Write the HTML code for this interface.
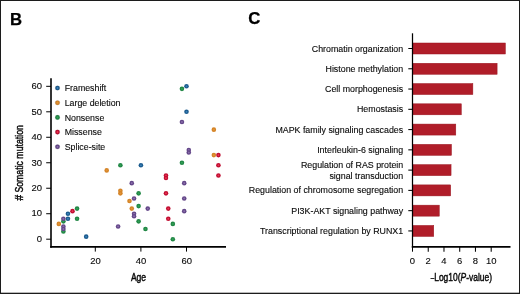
<!DOCTYPE html>
<html><head><meta charset="utf-8"><title>Figure</title>
<style>
html,body{margin:0;padding:0;background:#fff;}
svg{display:block;font-family:"Liberation Sans",sans-serif;}
</style></head><body>
<svg width="520" height="294" viewBox="0 0 520 294">
<rect x="0" y="0" width="520" height="294" fill="#fff"/>
<rect x="0.5" y="0.5" width="519" height="293" fill="none" stroke="#1c1c1c" stroke-width="1"/>
<rect x="0" y="292" width="520" height="1" fill="#1c1c1c" opacity="0.3"/>

<defs>
<radialGradient id="gb"><stop offset="0" stop-color="#3a80b8"/><stop offset="0.2" stop-color="#3a80b8"/><stop offset="0.55" stop-color="#1b5b8e"/><stop offset="1" stop-color="#1b5b8e"/></radialGradient>
<radialGradient id="go"><stop offset="0" stop-color="#e39435"/><stop offset="0.2" stop-color="#e39435"/><stop offset="0.55" stop-color="#d48428"/><stop offset="1" stop-color="#d48428"/></radialGradient>
<radialGradient id="gg"><stop offset="0" stop-color="#33a057"/><stop offset="0.2" stop-color="#33a057"/><stop offset="0.55" stop-color="#218745"/><stop offset="1" stop-color="#218745"/></radialGradient>
<radialGradient id="gr"><stop offset="0" stop-color="#ea3352"/><stop offset="0.2" stop-color="#ea3352"/><stop offset="0.55" stop-color="#c00f32"/><stop offset="1" stop-color="#c00f32"/></radialGradient>
<radialGradient id="gp"><stop offset="0" stop-color="#896eaa"/><stop offset="0.2" stop-color="#896eaa"/><stop offset="0.55" stop-color="#644789"/><stop offset="1" stop-color="#644789"/></radialGradient>
</defs>
<text x="9.9" y="24.5" font-size="16.7" font-weight="bold" fill="#000" stroke="#000" stroke-width="0.25">B</text>
<text x="248.3" y="24.4" font-size="16.8" font-weight="bold" fill="#000" stroke="#000" stroke-width="0.25">C</text>
<g stroke="#000" fill="none">
<path d="M51 78.2 V247.8" stroke-width="1.6"/><path d="M50.2 246.9 H226" stroke-width="1.8"/>
<g stroke-width="1">
<path d="M46.2 239.20 H51"/>
<path d="M46.2 213.72 H51"/>
<path d="M46.2 188.24 H51"/>
<path d="M46.2 162.76 H51"/>
<path d="M46.2 137.28 H51"/>
<path d="M46.2 111.80 H51"/>
<path d="M46.2 86.32 H51"/>
<path d="M95.30 247 V251.6"/>
<path d="M140.90 247 V251.6"/>
<path d="M186.50 247 V251.6"/>
</g></g>
<g font-size="8.8" fill="#0a0a0a" stroke="#0a0a0a" stroke-width="0.12">
<text transform="translate(41.9 241.95) scale(1.04 1)" font-size="9.1" text-anchor="end">0</text>
<text transform="translate(41.9 216.47) scale(1.04 1)" font-size="9.1" text-anchor="end">10</text>
<text transform="translate(41.9 190.99) scale(1.04 1)" font-size="9.1" text-anchor="end">20</text>
<text transform="translate(41.9 165.51) scale(1.04 1)" font-size="9.1" text-anchor="end">30</text>
<text transform="translate(41.9 140.03) scale(1.04 1)" font-size="9.1" text-anchor="end">40</text>
<text transform="translate(41.9 114.55) scale(1.04 1)" font-size="9.1" text-anchor="end">50</text>
<text transform="translate(41.9 89.07) scale(1.04 1)" font-size="9.1" text-anchor="end">60</text>
<text transform="translate(95.50 263.7) scale(1.04 1)" font-size="9.1" text-anchor="middle">20</text>
<text transform="translate(141.10 263.7) scale(1.04 1)" font-size="9.1" text-anchor="middle">40</text>
<text transform="translate(186.70 263.7) scale(1.04 1)" font-size="9.1" text-anchor="middle">60</text>
<circle cx="57.5" cy="88.00" r="2.3" fill="url(#gb)"/>
<text x="64.7" y="91.10">Frameshift</text>
<circle cx="57.5" cy="102.70" r="2.3" fill="url(#go)"/>
<text x="64.7" y="105.80">Large deletion</text>
<circle cx="57.5" cy="117.40" r="2.3" fill="url(#gg)"/>
<text x="64.7" y="120.50">Nonsense</text>
<circle cx="57.5" cy="132.10" r="2.3" fill="url(#gr)"/>
<text x="64.7" y="135.20">Missense</text>
<circle cx="57.5" cy="146.80" r="2.3" fill="url(#gp)"/>
<text x="64.7" y="149.90">Splice-site</text>
</g>
<text transform="translate(138.5 280.8) scale(0.76 1)" font-size="11.3" text-anchor="middle" fill="#0a0a0a" stroke="#0a0a0a" stroke-width="0.45">Age</text>
<g font-size="11" fill="#0a0a0a" stroke="#0a0a0a" stroke-width="0.45"><text transform="translate(22.85 200.5) rotate(-90) scale(0.92 1)">#</text><text transform="translate(22.85 192.6) rotate(-90) scale(0.795 1)">Somatic mutation</text></g>
<circle cx="67.94" cy="213.72" r="2.3" fill="url(#gb)"/>
<circle cx="67.94" cy="218.82" r="2.3" fill="url(#gb)"/>
<circle cx="86.18" cy="236.65" r="2.3" fill="url(#gb)"/>
<circle cx="140.90" cy="165.31" r="2.3" fill="url(#gb)"/>
<circle cx="186.50" cy="86.32" r="2.3" fill="url(#gb)"/>
<circle cx="186.50" cy="111.80" r="2.3" fill="url(#gb)"/>
<circle cx="58.82" cy="223.91" r="2.3" fill="url(#go)"/>
<circle cx="120.38" cy="190.79" r="2.3" fill="url(#go)"/>
<circle cx="120.38" cy="193.34" r="2.3" fill="url(#go)"/>
<circle cx="129.50" cy="200.98" r="2.3" fill="url(#go)"/>
<circle cx="131.78" cy="208.62" r="2.3" fill="url(#go)"/>
<circle cx="106.70" cy="170.40" r="2.3" fill="url(#go)"/>
<circle cx="213.86" cy="129.64" r="2.3" fill="url(#go)"/>
<circle cx="213.86" cy="155.12" r="2.3" fill="url(#go)"/>
<circle cx="63.38" cy="221.36" r="2.3" fill="url(#gg)"/>
<circle cx="63.38" cy="231.56" r="2.3" fill="url(#gg)"/>
<circle cx="77.06" cy="208.62" r="2.3" fill="url(#gg)"/>
<circle cx="77.06" cy="218.82" r="2.3" fill="url(#gg)"/>
<circle cx="138.62" cy="193.34" r="2.3" fill="url(#gg)"/>
<circle cx="138.62" cy="206.08" r="2.3" fill="url(#gg)"/>
<circle cx="138.62" cy="221.36" r="2.3" fill="url(#gg)"/>
<circle cx="145.46" cy="229.01" r="2.3" fill="url(#gg)"/>
<circle cx="172.82" cy="223.91" r="2.3" fill="url(#gg)"/>
<circle cx="172.82" cy="239.20" r="2.3" fill="url(#gg)"/>
<circle cx="181.94" cy="88.87" r="2.3" fill="url(#gg)"/>
<circle cx="181.94" cy="162.76" r="2.3" fill="url(#gg)"/>
<circle cx="120.38" cy="165.31" r="2.3" fill="url(#gg)"/>
<circle cx="72.50" cy="211.17" r="2.3" fill="url(#gr)"/>
<circle cx="165.98" cy="175.50" r="2.3" fill="url(#gr)"/>
<circle cx="165.98" cy="178.05" r="2.3" fill="url(#gr)"/>
<circle cx="165.98" cy="193.34" r="2.3" fill="url(#gr)"/>
<circle cx="168.26" cy="208.62" r="2.3" fill="url(#gr)"/>
<circle cx="168.26" cy="218.82" r="2.3" fill="url(#gr)"/>
<circle cx="218.42" cy="155.12" r="2.3" fill="url(#gr)"/>
<circle cx="218.42" cy="165.31" r="2.3" fill="url(#gr)"/>
<circle cx="218.42" cy="175.50" r="2.3" fill="url(#gr)"/>
<circle cx="63.38" cy="218.82" r="2.3" fill="url(#gp)"/>
<circle cx="63.38" cy="226.46" r="2.3" fill="url(#gp)"/>
<circle cx="63.38" cy="229.01" r="2.3" fill="url(#gp)"/>
<circle cx="118.10" cy="226.46" r="2.3" fill="url(#gp)"/>
<circle cx="131.78" cy="183.14" r="2.3" fill="url(#gp)"/>
<circle cx="134.06" cy="198.43" r="2.3" fill="url(#gp)"/>
<circle cx="134.06" cy="213.72" r="2.3" fill="url(#gp)"/>
<circle cx="134.06" cy="216.27" r="2.3" fill="url(#gp)"/>
<circle cx="147.74" cy="208.62" r="2.3" fill="url(#gp)"/>
<circle cx="184.22" cy="183.14" r="2.3" fill="url(#gp)"/>
<circle cx="184.22" cy="198.43" r="2.3" fill="url(#gp)"/>
<circle cx="184.22" cy="211.17" r="2.3" fill="url(#gp)"/>
<circle cx="181.94" cy="121.99" r="2.3" fill="url(#gp)"/>
<circle cx="188.78" cy="150.02" r="2.3" fill="url(#gp)"/>
<circle cx="188.78" cy="152.57" r="2.3" fill="url(#gp)"/>
<g fill="#b01d29" stroke="#9a1621" stroke-width="0.5">
<rect x="412.5" y="43.00" width="92.87" height="11.0"/>
<rect x="412.5" y="63.27" width="84.60" height="11.0"/>
<rect x="412.5" y="83.54" width="60.36" height="11.0"/>
<rect x="412.5" y="103.81" width="48.79" height="11.0"/>
<rect x="412.5" y="124.08" width="43.29" height="11.0"/>
<rect x="412.5" y="144.35" width="38.96" height="11.0"/>
<rect x="412.5" y="164.62" width="38.56" height="11.0"/>
<rect x="412.5" y="184.89" width="38.17" height="11.0"/>
<rect x="412.5" y="205.16" width="26.76" height="11.0"/>
<rect x="412.5" y="225.43" width="21.25" height="11.0"/>
</g>
<g stroke="#000" fill="none">
<path d="M412.5 33.3 V247.8" stroke-width="1.25"/><path d="M411.8 246.9 H510.5" stroke-width="1.8"/>
<g stroke-width="1.05">
<path d="M408.3 48.50 H412.5"/>
<path d="M408.3 68.77 H412.5"/>
<path d="M408.3 89.04 H412.5"/>
<path d="M408.3 109.31 H412.5"/>
<path d="M408.3 129.58 H412.5"/>
<path d="M408.3 149.85 H412.5"/>
<path d="M408.3 170.12 H412.5"/>
<path d="M408.3 190.39 H412.5"/>
<path d="M408.3 210.66 H412.5"/>
<path d="M408.3 230.93 H412.5"/>
<path d="M412.50 247 V251.7"/>
<path d="M428.24 247 V251.7"/>
<path d="M443.98 247 V251.7"/>
<path d="M459.72 247 V251.7"/>
<path d="M475.46 247 V251.7"/>
<path d="M491.20 247 V251.7"/>
</g></g>
<g font-size="8.85" fill="#0a0a0a" stroke="#0a0a0a" stroke-width="0.12">
<text x="403.2" y="51.60" text-anchor="end">Chromatin organization</text>
<text x="403.2" y="71.87" text-anchor="end">Histone methylation</text>
<text x="403.2" y="92.14" text-anchor="end">Cell morphogenesis</text>
<text x="403.2" y="112.41" text-anchor="end">Hemostasis</text>
<text x="403.2" y="132.68" text-anchor="end">MAPK family signaling cascades</text>
<text x="403.2" y="152.95" text-anchor="end">Interleukin-6 signaling</text>
<text x="403.2" y="167.92" text-anchor="end">Regulation of RAS protein</text>
<text x="403.2" y="178.52" text-anchor="end">signal transduction</text>
<text x="403.2" y="193.49" text-anchor="end">Regulation of chromosome segregation</text>
<text x="403.2" y="213.76" text-anchor="end">PI3K-AKT signaling pathway</text>
<text x="403.2" y="234.03" text-anchor="end">Transcriptional regulation by RUNX1</text>
<text transform="translate(412.50 263.8) scale(1.04 1)" font-size="9.1" text-anchor="middle">0</text>
<text transform="translate(428.24 263.8) scale(1.04 1)" font-size="9.1" text-anchor="middle">2</text>
<text transform="translate(443.98 263.8) scale(1.04 1)" font-size="9.1" text-anchor="middle">4</text>
<text transform="translate(459.72 263.8) scale(1.04 1)" font-size="9.1" text-anchor="middle">6</text>
<text transform="translate(475.46 263.8) scale(1.04 1)" font-size="9.1" text-anchor="middle">8</text>
<text transform="translate(491.20 263.8) scale(1.04 1)" font-size="9.1" text-anchor="middle">10</text>
</g>
<g font-size="11.3" fill="#0a0a0a" stroke="#0a0a0a" stroke-width="0.45"><text transform="translate(430.7 280.6) scale(0.55 1)">–</text><text transform="translate(434.2 280.6) scale(0.75 1)">Log10(<tspan font-style="italic">P</tspan>-value)</text></g>
</svg></body></html>
